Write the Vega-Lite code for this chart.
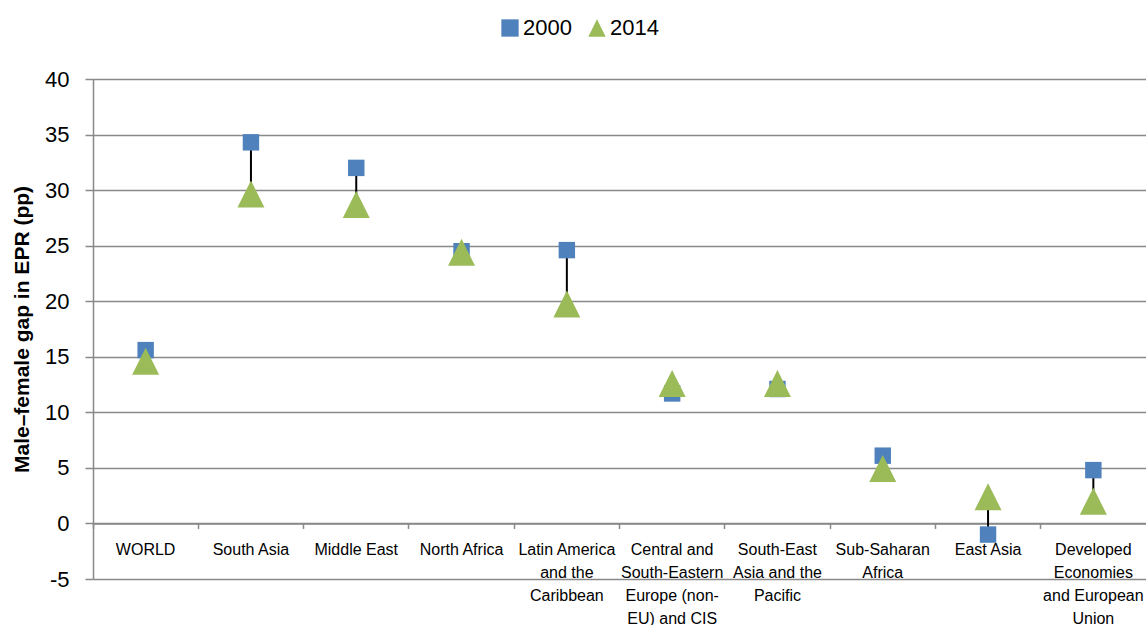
{
  "$schema": "https://vega.github.io/schema/vega-lite/v6.json",
  "width": 1053,
  "height": 500,
  "autosize": {"type": "none"},
  "padding": {"left": 93, "top": 79, "right": 0, "bottom": 46},
  "background": "white",
  "config": {"view": {"stroke": null}, "font": "Liberation Sans, Arial, sans-serif"},
  "data": {
    "values": [
      {"region": "WORLD", "2000": 15.6, "2014": 14.6},
      {"region": "South Asia", "2000": 34.3, "2014": 29.65},
      {"region": "Middle East", "2000": 32.0, "2014": 28.7},
      {"region": "North Africa", "2000": 24.5, "2014": 24.4},
      {"region": "Latin America and the Caribbean", "2000": 24.6, "2014": 19.75},
      {"region": "Central and South-Eastern Europe (non-EU) and CIS", "2000": 11.7, "2014": 12.6},
      {"region": "South-East Asia and the Pacific", "2000": 12.1, "2014": 12.6},
      {"region": "Sub-Saharan Africa", "2000": 6.1, "2014": 4.95},
      {"region": "East Asia", "2000": -1.0, "2014": 2.4},
      {"region": "Developed Economies and European Union", "2000": 4.8, "2014": 2.0}
    ]
  },
  "encoding": {
    "x": {
      "field": "region",
      "type": "nominal",
      "sort": null,
      "scale": {"paddingInner": 0, "paddingOuter": 0},
      "axis": {
        "title": null,
        "offset": -55.56,
        "labelAngle": 0,
        "bandPosition": 0,
        "domainColor": "#898989",
        "domainWidth": 1.5,
        "tickColor": "#898989",
        "tickWidth": 1.5,
        "tickSize": 5,
        "labelFont": "Liberation Sans, Arial, sans-serif",
        "labelFontSize": 16,
        "labelColor": "black",
        "labelLineHeight": 23,
        "labelPadding": 13,
        "labelBaseline": "top",
        "labelLimit": 0,
        "labelOverlap": false,
        "labelExpr": "datum.label == 'Latin America and the Caribbean' ? ['Latin America','and the','Caribbean'] : datum.label == 'Central and South-Eastern Europe (non-EU) and CIS' ? ['Central and','South-Eastern','Europe (non-','EU) and CIS'] : datum.label == 'South-East Asia and the Pacific' ? ['South-East','Asia and the','Pacific'] : datum.label == 'Sub-Saharan Africa' ? ['Sub-Saharan','Africa'] : datum.label == 'Developed Economies and European Union' ? ['Developed','Economies','and European','Union'] : datum.label"
      }
    }
  },
  "layer": [
    {
      "mark": {"type": "rule", "color": "black", "strokeWidth": 2},
      "encoding": {
        "y": {
          "field": "2000",
          "type": "quantitative",
          "scale": {"domain": [-5, 40], "nice": false, "zero": false},
          "axis": {
            "values": [-5, 0, 5, 10, 15, 20, 25, 30, 35, 40],
            "labelExpr": "replace(datum.label, '−', '-')",
            "grid": true,
            "gridColor": "#898989",
            "gridWidth": 1.5,
            "domainColor": "#898989",
            "domainWidth": 1.5,
            "tickColor": "#898989",
            "tickWidth": 1.5,
            "tickSize": 8,
            "labelFont": "Liberation Sans, Arial, sans-serif",
            "labelFontSize": 22,
            "labelColor": "black",
            "labelPadding": 16,
            "title": "Male–female gap in EPR (pp)",
            "titleFont": "Liberation Sans, Arial, sans-serif",
            "titleFontSize": 21,
            "titleFontWeight": "bold",
            "titleColor": "black",
            "titlePadding": 12
          }
        },
        "y2": {"field": "2014"}
      }
    },
    {
      "transform": [{"fold": ["2000", "2014"], "as": ["series", "gap"]}],
      "mark": {"type": "point", "filled": true, "opacity": 1, "strokeWidth": 0},
      "encoding": {
        "y": {"field": "gap", "type": "quantitative"},
        "color": {
          "field": "series",
          "type": "nominal",
          "scale": {"domain": ["2000", "2014"], "range": ["#4F81BD", "#9BBB59"]},
          "legend": {
            "orient": "none",
            "legendX": 406,
            "legendY": -62,
            "direction": "horizontal",
            "title": null,
            "padding": 0,
            "labelFont": "Liberation Sans, Arial, sans-serif",
            "labelFontSize": 22,
            "labelColor": "black",
            "symbolSize": 300,
            "symbolStrokeWidth": 0,
            "symbolOpacity": 1,
            "labelOffset": 2,
            "columnPadding": 14
          }
        },
        "shape": {
          "field": "series",
          "type": "nominal",
          "scale": {"domain": ["2000", "2014"], "range": ["square", "M0,-1L1,1L-1,1Z"]}
        },
        "size": {
          "condition": {"test": "datum.series == '2014'", "value": 729},
          "value": 270
        }
      }
    }
  ]
}
